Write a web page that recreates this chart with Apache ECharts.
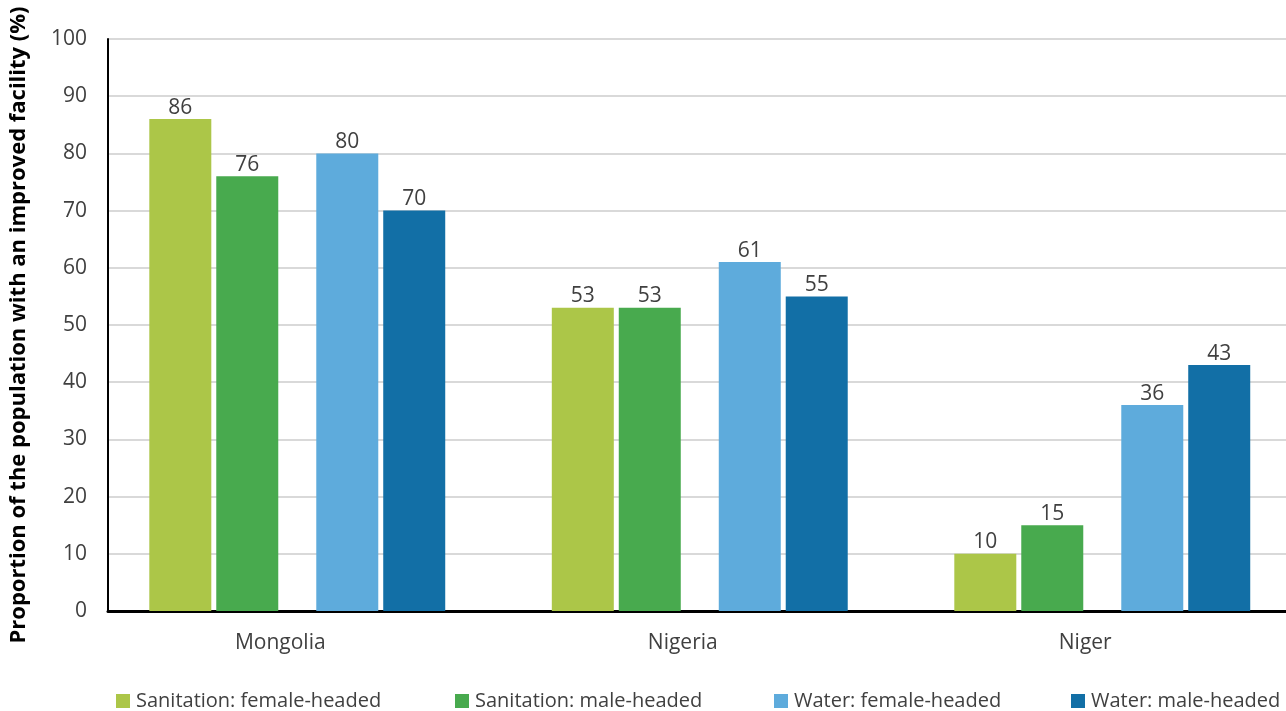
<!DOCTYPE html>
<html>
<head>
<meta charset="utf-8">
<script src="https://cdn.jsdelivr.net/npm/echarts@6/dist/echarts.min.js"></script>
<style>
  html, body { margin: 0; padding: 0; background: #fff; }
  #chart { width: 1286px; height: 711px; }
</style>
</head>
<body>
<div id="chart"></div>
<script>
const countries = ['Mongolia', 'Nigeria', 'Niger'];
const sanitationFemale = [86, 53, 10];
const sanitationMale = [76, 53, 15];
const waterFemale = [80, 61, 36];
const waterMale = [70, 55, 43];
const yTicks = [0, 10, 20, 30, 40, 50, 60, 70, 80, 90, 100];

const names = ['Sanitation: female-headed', 'Sanitation: male-headed', 'Water: female-headed', 'Water: male-headed'];
const colors = ['#acc648', '#48aa4e', '#5eabdc', '#126fa6'];
const textColor = '#404040';
const font = '"Open Sans", sans-serif';

const chart = echarts.init(document.getElementById('chart'));

function barSeries(name, data, color) {
  return {
    name: name,
    type: 'bar',
    data: data,
    barWidth: 62,
    barGap: '8%',
    itemStyle: { color: color },
    label: {
      show: true,
      position: 'top',
      distance: 1,
      color: textColor,
      fontSize: 21,
      fontFamily: font
    }
  };
}

// empty series only used to leave room between sanitation and water bars
function spacer(name, width) {
  return {
    name: name,
    type: 'bar',
    data: countries.map(() => null),
    barWidth: width,
    barGap: '8%',
    silent: true
  };
}

const legendLeft = [116, 455, 774, 1071];

const option = {
  animation: false,
  textStyle: { fontFamily: font },
  grid: { left: 108, top: 39, right: -29.5, bottom: 100, outerBoundsMode: 'none', containLabel: false },
  legend: names.map((n, i) => ({
    data: [n],
    left: legendLeft[i],
    top: 691,
    padding: 0,
    itemWidth: 14,
    itemHeight: 14,
    itemGap: 0,
    icon: 'rect',
    textStyle: { color: textColor, fontSize: 20, fontFamily: font, padding: [0, 0, 0, 1] }
  })),
  xAxis: {
    type: 'category',
    data: countries,
    axisLine: { lineStyle: { color: '#000', width: 3 } },
    axisTick: { show: false },
    axisLabel: {
      margin: 22,
      formatter: v => '{a|' + v + '}',
      rich: {
        a: { color: textColor, fontSize: 21, fontFamily: font, padding: [0, 58, 0, 0] }
      }
    }
  },
  yAxis: {
    type: 'value',
    min: yTicks[0],
    max: yTicks[yTicks.length - 1],
    interval: 10,
    name: 'Proportion of the population with an improved facility (%)',
    nameLocation: 'middle',
    nameGap: 78,
    nameTextStyle: { color: '#000', fontSize: 22, fontWeight: 'bold', fontFamily: font },
    axisLine: { show: true, lineStyle: { color: '#000', width: 2 } },
    axisTick: { show: false },
    axisLabel: { color: textColor, fontSize: 21, fontFamily: font, margin: 21 },
    splitLine: { lineStyle: { color: '#d9d9d9', width: 2 } }
  },
  series: [
    barSeries(names[0], sanitationFemale, colors[0]),
    barSeries(names[1], sanitationMale, colors[1]),
    spacer('gap-mid', 30.6),
    barSeries(names[2], waterFemale, colors[2]),
    barSeries(names[3], waterMale, colors[3]),
    spacer('gap-end', 19)
  ]
};

chart.setOption(option);
</script>
</body>
</html>
